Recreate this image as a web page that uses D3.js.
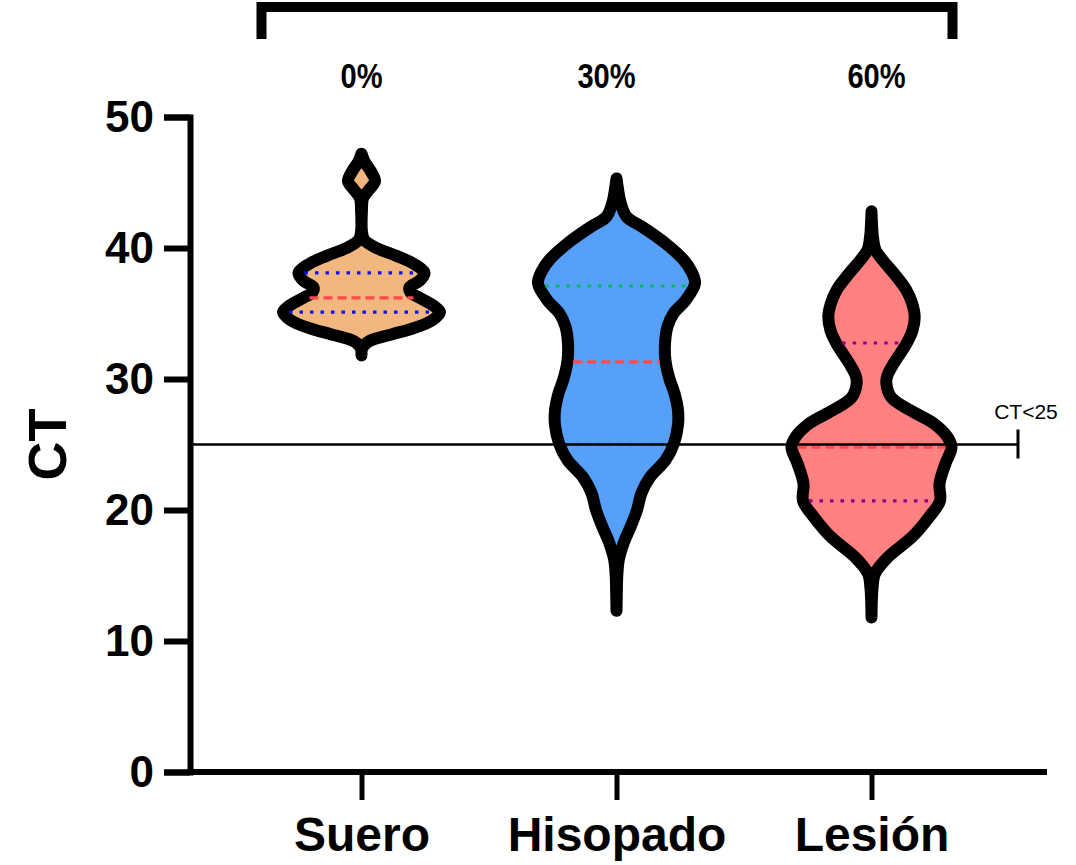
<!DOCTYPE html>
<html>
<head>
<meta charset="utf-8">
<script src="https://cdn.jsdelivr.net/npm/d3@7/dist/d3.min.js"></script>
<style>
  body { margin: 0; background: #fff; }
  svg { display: block; font-family: "Liberation Sans", Arial, Helvetica, sans-serif; }
</style>
</head>
<body>
<svg id="chart" width="1076" height="865"></svg>
<script>
// ---- data ----
const categories = ["Suero", "Hisopado", "Lesión"];
const groupLabels = ["0%", "30%", "60%"];
const yTicks = [0, 10, 20, 30, 40, 50];
const threshold = 25;
const thresholdLabel = "CT<25";

// Kernel density profiles: [CT, relative density]
const sueroDensity = [
  [47.2, 0], [46.6, 0.03], [45.9, 0.09], [45.1, 0.135], [44.4, 0.07], [43.8, 0.015],
  [43.0, 0.005], [41.2, 0.005], [40.6, 0.03], [40.0, 0.15], [39.4, 0.35], [38.8, 0.52],
  [38.1, 0.63], [37.5, 0.58], [37.0, 0.48], [36.6, 0.49], [36.2, 0.58], [35.6, 0.72],
  [35.1, 0.785], [34.5, 0.71], [33.9, 0.53], [33.4, 0.3], [32.9, 0.08], [32.4, 0.01], [31.8, 0]
];
const hisopadoDensity = [
  [45.3, 0], [44.5, 0.015], [43.5, 0.04], [42.4, 0.1], [41.6, 0.26], [40.35, 0.49],
  [39.1, 0.67], [38.2, 0.75], [37.3, 0.785], [36.0, 0.69], [35.0, 0.57], [34.0, 0.51],
  [32.7, 0.485], [31.4, 0.49], [30.0, 0.53], [28.9, 0.58], [27.6, 0.615], [26.5, 0.615],
  [25.1, 0.575], [23.8, 0.49], [22.5, 0.335], [21.3, 0.25], [20.0, 0.205], [18.7, 0.14],
  [17.5, 0.073], [16.2, 0.023], [15.0, 0.008], [13.6, 0.003], [12.3, 0]
];
const lesionDensity = [
  [42.8, 0], [41.8, 0.005], [40.8, 0.015], [39.85, 0.04], [39.0, 0.12], [38.07, 0.223],
  [36.8, 0.348], [35.8, 0.405], [34.75, 0.432], [33.7, 0.41], [32.7, 0.35], [31.2, 0.223],
  [30.3, 0.16], [29.7, 0.148], [28.6, 0.198], [27.6, 0.39], [26.6, 0.623], [25.6, 0.757],
  [24.8, 0.8], [23.55, 0.74], [22.0, 0.68], [20.7, 0.685], [19.5, 0.58], [17.95, 0.407],
  [16.4, 0.165], [15.15, 0.035], [14.0, 0.01], [13.0, 0.003], [11.8, 0]
];

// Quartiles: [Q1, median, Q3]
const sueroQuartiles = [35.1, 36.2, 38.1];
const hisopadoQuartiles = [25.0, 31.3, 37.1];
const lesionQuartiles = [20.7, 24.8, 32.75];

// ---- styling ----
const fills = ["#F2B77E", "#56A0FA", "#FF8080"];
const quartileColors = ["#1010F0", "#00B860", "#8B008B"];
const medianColor = "#FF4A4A";

const groups = categories.map((name, i) => ({
  name,
  density: [sueroDensity, hisopadoDensity, lesionDensity][i],
  quartiles: [sueroQuartiles, hisopadoQuartiles, lesionQuartiles][i],
  fill: fills[i],
  qColor: quartileColors[i]
}));

const svg = d3.select("#chart");
const outline = 12;

const y = d3.scaleLinear().domain([0, 50]).range([772, 117]);
const x = d3.scalePoint().domain(categories).range([361.5, 871.5]);
const w = d3.scaleLinear().domain([0, 1]).range([0, 100]);

// ---- violins ----
const violinLayer = svg.append("g");
groups.forEach(g => {
  const cx = x(g.name);
  const area = d3.area()
    .y(d => y(d[0]))
    .x0(d => cx - w(d[1]))
    .x1(d => cx + w(d[1]))
    .curve(d3.curveCatmullRom.alpha(0.5));
  violinLayer.append("path")
    .datum(g.density)
    .attr("d", area)
    .attr("fill", g.fill)
    .attr("stroke", "#000")
    .attr("stroke-width", outline)
    .attr("stroke-linejoin", "round");
});

// ---- quartile lines ----
const qLayer = svg.append("g");
groups.forEach(g => {
  const cx = x(g.name);
  const dens = d3.scaleLinear()
    .domain(g.density.map(d => d[0]))
    .range(g.density.map(d => d[1]));
  g.quartiles.forEach((v, k) => {
    const half = Math.max(0, w(dens(v)) - outline / 2);
    const isMedian = k === 1;
    qLayer.append("line")
      .attr("x1", cx - half).attr("x2", cx + half)
      .attr("y1", y(v)).attr("y2", y(v))
      .attr("stroke", isMedian ? medianColor : g.qColor)
      .attr("stroke-width", 3.2)
      .attr("stroke-dasharray", isMedian ? "9,5" : "3.5,7");
  });
});

// ---- threshold line ----
const xEnd = 1018;
svg.append("line")
  .attr("x1", 190).attr("x2", xEnd)
  .attr("y1", y(threshold)).attr("y2", y(threshold))
  .attr("stroke", "#000").attr("stroke-width", 2.6);
svg.append("line")
  .attr("x1", xEnd).attr("x2", xEnd)
  .attr("y1", y(threshold) - 15).attr("y2", y(threshold) + 14)
  .attr("stroke", "#000").attr("stroke-width", 3);
svg.append("text")
  .attr("x", xEnd + 8).attr("y", 419)
  .attr("text-anchor", "middle")
  .attr("font-size", 21)
  .text(thresholdLabel);

// ---- axes ----
const yAxis = d3.axisLeft(y).tickValues(yTicks).tickSize(26).tickSizeOuter(26).tickPadding(10);
const yg = svg.append("g").attr("transform", "translate(190,0)").call(yAxis);
yg.select(".domain").attr("stroke-width", 6).attr("stroke-linejoin", "miter");
yg.selectAll(".tick line").attr("stroke-width", 6);
yg.selectAll(".tick text")
  .attr("font-size", 44).attr("font-weight", "bold").attr("fill", "#000")
  .attr("font-family", "'Liberation Sans', Arial, sans-serif");

svg.append("line")
  .attr("x1", 187).attr("x2", 1047)
  .attr("y1", 772).attr("y2", 772)
  .attr("stroke", "#000").attr("stroke-width", 6);

const xAxis = d3.axisBottom(x).tickSize(28).tickPadding(17);
const xg = svg.append("g").attr("transform", "translate(0,772)").call(xAxis);
xg.select(".domain").remove();
xg.selectAll(".tick line").attr("stroke-width", 5);
xg.selectAll(".tick text")
  .attr("font-size", 48).attr("font-weight", "bold").attr("fill", "#000")
  .attr("font-family", "'Liberation Sans', Arial, sans-serif");

// axis title
svg.append("text")
  .attr("transform", `translate(66,${y(threshold)}) rotate(-90)`)
  .attr("text-anchor", "middle")
  .attr("font-size", 54).attr("font-weight", "bold")
  .text("CT");

// ---- group bracket and labels ----
const bracketLeft = x(categories[0]) - 100;
const bracketRight = x(categories[2]) + 81;
svg.append("path")
  .attr("d", `M${bracketLeft},39V7H${bracketRight}V39`)
  .attr("fill", "none").attr("stroke", "#000")
  .attr("stroke-width", 10).attr("stroke-linejoin", "miter");

const labelShift = [0, -10, 5];
groupLabels.forEach((t, i) => {
  svg.append("text")
    .attr("transform", `translate(${x(categories[i]) + labelShift[i]},88) scale(0.83,1)`)
    .attr("text-anchor", "middle")
    .attr("font-size", 35).attr("font-weight", "bold")
    .text(t);
});
</script>
</body>
</html>
